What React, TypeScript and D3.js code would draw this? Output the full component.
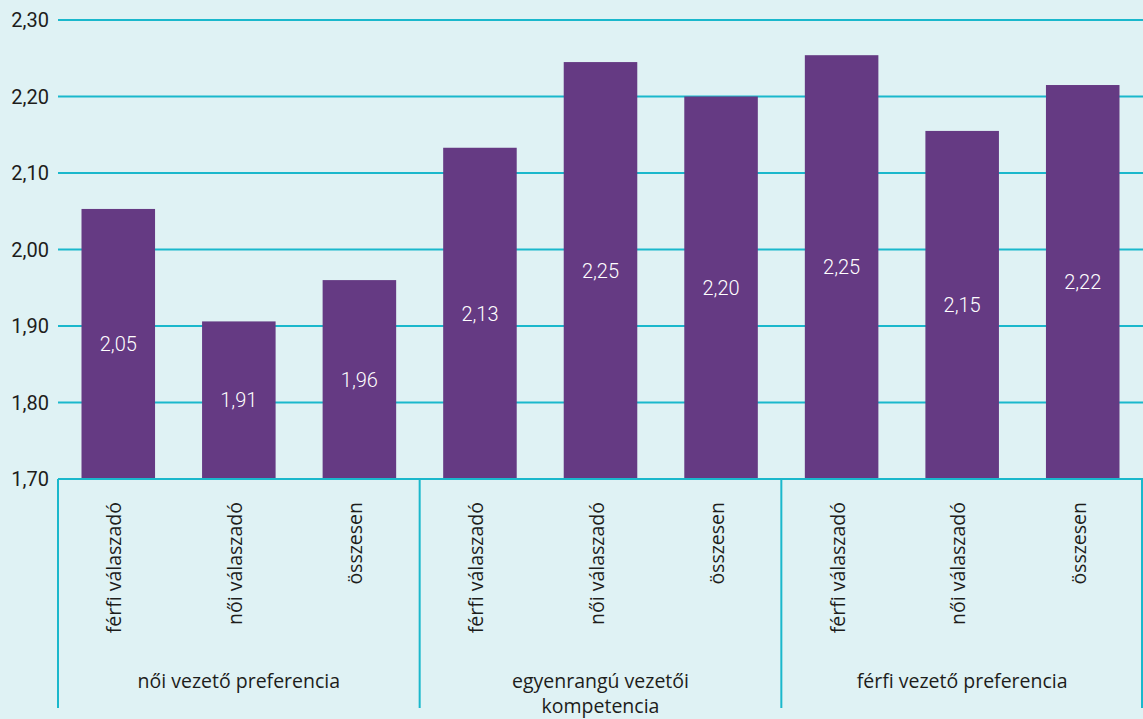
import React from "react";
import * as d3 from "d3";

const groups = ["női vezető preferencia", "egyenrangú vezetői|kompetencia", "férfi vezető preferencia"];
const subCategories = ["férfi válaszadó", "női válaszadó", "összesen"];
const values = [2.053, 1.906, 1.96, 2.133, 2.245, 2.2, 2.254, 2.155, 2.215];
const valueLabels = ["2,05", "1,91", "1,96", "2,13", "2,25", "2,20", "2,25", "2,15", "2,22"];
const yTicks = [1.7, 1.8, 1.9, 2.0, 2.1, 2.2, 2.3];

const W = 1143, H = 719;
const left = 58, right = 1143, top = 20, bottom = 479;
const BG = "#dff2f4", GRID = "#1ab8cc", BAR = "#653a83", TXT = "#1d1d1b";
const NUMFONT = "Roboto, 'Noto Sans', sans-serif";
const CATFONT = "'Open Sans', 'Noto Sans', sans-serif";

export default function App() {
  const keys = groups.flatMap((g, gi) => subCategories.map((s, si) => `${gi}-${si}`));
  const x = d3.scaleBand<string>().domain(keys).range([left, right]).paddingInner(0.39).paddingOuter(0.195);
  const y = d3.scaleLinear().domain([1.7, 2.3]).range([bottom, top]);
  const groupW = (right - left) / groups.length;
  return (
    <div style={{ position: "fixed", left: 0, top: 0, width: W, height: H, background: BG }}>
      <svg width={W} height={H} style={{ display: "block" }}>
        <rect x={0} y={0} width={W} height={H} fill={BG} />
        {yTicks.map((t) => (
          <g key={t}>
            <line x1={left} x2={right} y1={y(t)} y2={y(t)} stroke={GRID} strokeWidth={2} />
            <text x={49} y={y(t)} dy="0.36em" textAnchor="end" fontSize={20} fontFamily={NUMFONT} fill={TXT}>
              {d3.format(".2f")(t).replace(".", ",")}
            </text>
          </g>
        ))}
        {values.map((v, i) => {
          const k = keys[i];
          const x0 = x(k)!;
          const y0 = y(v);
          return (
            <g key={k}>
              <rect x={x0} y={y0} width={x.bandwidth()} height={bottom - y0} fill={BAR} />
              <text x={x0 + x.bandwidth() / 2} y={(y0 + bottom) / 2} dy="0.36em" textAnchor="middle" fontSize={20} fontWeight={300} fontFamily={NUMFONT} fill="#ffffff">
                {valueLabels[i]}
              </text>
            </g>
          );
        })}
        <line x1={left} x2={right} y1={bottom} y2={bottom} stroke={GRID} strokeWidth={2} />
        {d3.range(groups.length + 1).map((i) => {
          const gx = Math.min(left + i * groupW, right - 1);
          return <line key={i} x1={gx} x2={gx} y1={bottom} y2={708} stroke={GRID} strokeWidth={2} />;
        })}
        {keys.map((k, i) => {
          const cx = x(k)! + x.bandwidth() / 2;
          return (
            <text key={k} transform={`translate(${cx + 3},502) rotate(-90)`} textAnchor="end" fontSize={19.5} fontFamily={CATFONT} fill={TXT}>
              {subCategories[i % 3]}
            </text>
          );
        })}
        {groups.map((g, gi) => {
          const cx = left + gi * groupW + groupW / 2;
          const lines = g.split("|");
          return (
            <text key={g} x={cx} y={688} textAnchor="middle" fontSize={19.5} fontFamily={CATFONT} fill={TXT}>
              {lines.map((l, li) => (
                <tspan key={li} x={cx} dy={li === 0 ? 0 : 25}>{l}</tspan>
              ))}
            </text>
          );
        })}
      </svg>
    </div>
  );
}
